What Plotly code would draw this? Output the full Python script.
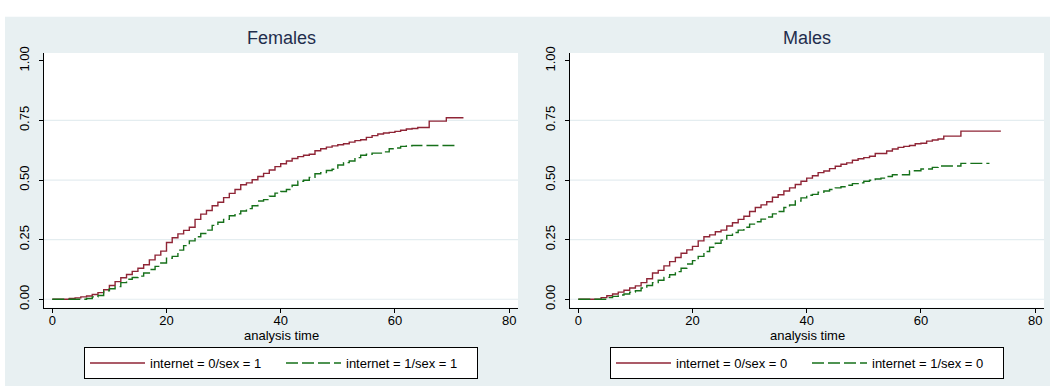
import plotly.graph_objects as go

# Kaplan-Meier failure estimates, one step per event time
fem_t_net0 = [0, 3, 4, 5, 6, 7, 8, 9, 10, 11, 12, 13, 14, 15, 16, 17, 18, 19, 20,
              21, 22, 23, 24, 25, 26, 27, 28, 29, 30, 31, 32, 33, 34, 35, 36, 37,
              38, 39, 40, 41, 42, 43, 44, 45, 46, 47, 48, 49, 50, 51, 52, 53, 54,
              55, 56, 57, 58, 59, 60, 61, 62, 63, 64, 66, 69, 72]
fem_f_net0 = [0, .003, .006, .010, .014, .020, .028, .040, .058, .074, .090, .104,
              .117, .130, .145, .165, .185, .202, .238, .258, .274, .289, .302,
              .335, .357, .372, .392, .407, .426, .444, .460, .480, .488, .501,
              .515, .528, .542, .556, .568, .580, .590, .598, .604, .608, .623,
              .631, .638, .643, .648, .652, .659, .665, .669, .679, .686, .693,
              .697, .700, .704, .709, .714, .716, .720, .747, .761, .761]

fem_t_net1 = [0, 6, 7, 8, 9, 10, 11, 12, 13, 14, 15, 16, 17, 18, 19, 20, 21, 22,
              23, 24, 25, 26, 27, 28, 29, 30, 31, 32, 33, 34, 35, 36, 37, 38, 39,
              40, 41, 42, 43, 44, 45, 46, 47, 48, 49, 50, 51, 52, 53, 54, 55, 56,
              58, 59, 60, 61, 62, 63, 71]
fem_f_net1 = [0, .003, .010, .016, .035, .044, .053, .070, .084, .091, .097, .110,
              .125, .138, .152, .172, .180, .206, .225, .245, .262, .276, .290,
              .310, .323, .335, .350, .358, .370, .380, .392, .412, .418, .432,
              .445, .452, .460, .478, .495, .499, .511, .526, .531, .540, .545,
              .563, .573, .580, .594, .604, .608, .613, .618, .631, .634, .641,
              .643, .645, .645]

mal_t_net0 = [0, 4, 5, 6, 7, 8, 9, 10, 11, 12, 13, 14, 15, 16, 17, 18, 19, 20,
              21, 22, 23, 24, 25, 26, 27, 28, 29, 30, 31, 32, 33, 34, 35, 36, 37,
              38, 39, 40, 41, 42, 43, 44, 45, 46, 47, 48, 49, 50, 51, 52, 54, 55,
              56, 57, 58, 59, 60, 61, 62, 63, 64, 67, 74]
mal_f_net0 = [0, .007, .015, .022, .030, .038, .047, .056, .070, .086, .110, .121,
              .140, .158, .175, .193, .207, .222, .245, .262, .270, .283, .290,
              .307, .321, .335, .348, .368, .385, .396, .409, .428, .438, .454,
              .467, .481, .495, .508, .518, .531, .538, .548, .558, .566, .572,
              .583, .589, .594, .600, .611, .622, .630, .637, .641, .645, .652,
              .654, .663, .668, .672, .684, .705, .705]

mal_t_net1 = [0, 5, 6, 7, 8, 9, 10, 11, 12, 13, 14, 15, 16, 17, 18, 19, 20, 21,
              22, 23, 24, 25, 26, 27, 28, 29, 30, 31, 32, 33, 34, 35, 36, 37, 38,
              39, 40, 41, 42, 43, 44, 45, 46, 47, 48, 49, 50, 51, 52, 53, 54, 55,
              58, 60, 62, 63, 67, 72]
mal_f_net1 = [0, .007, .012, .018, .022, .030, .036, .047, .058, .070, .080, .092,
              .103, .116, .130, .148, .162, .180, .200, .218, .235, .248, .268,
              .280, .290, .302, .315, .325, .336, .345, .358, .368, .385, .395,
              .412, .425, .436, .440, .449, .454, .460, .467, .472, .478, .485,
              .488, .495, .499, .504, .508, .515, .522, .539, .546, .553, .559,
              .570, .570]

panel_titles = ["Females", "Males"]
legend_names = [["internet = 0/sex = 1", "internet = 1/sex = 1"],
                ["internet = 0/sex = 0", "internet = 1/sex = 0"]]
x_ticks = [0, 20, 40, 60, 80]
y_ticks = [0, 0.25, 0.5, 0.75, 1.0]
y_grid = [0, 0.25, 0.5, 0.75]

W, H = 1050, 388
FONT = "Liberation Sans, Arial, Helvetica, sans-serif"
RED = "#8f2536"
GREEN = "#16701a"
BG = "#e8f0f2"
GRID = "#e4edf0"

# panel geometry in pixels
panels = [dict(x0=44, x1=518), dict(x0=570, x1=1044)]
plot_top, plot_bot = 47, 308

fig = go.Figure()

series = [(fem_t_net0, fem_f_net0, fem_t_net1, fem_f_net1),
          (mal_t_net0, mal_f_net0, mal_t_net1, mal_f_net1)]

for i, (t0, f0, t1, f1) in enumerate(series):
    xa = "x" if i == 0 else "x2"
    ya = "y" if i == 0 else "y2"
    lg = "legend" if i == 0 else "legend2"
    fig.add_trace(go.Scatter(x=t0, y=f0, mode="lines", line_shape="hv",
                             line=dict(color=RED, width=1.4),
                             name=legend_names[i][0], xaxis=xa, yaxis=ya,
                             legend=lg))
    fig.add_trace(go.Scatter(x=t1, y=f1, mode="lines", line_shape="hv",
                             line=dict(color=GREEN, width=1.4, dash="12px,4px"),
                             name=legend_names[i][1], xaxis=xa, yaxis=ya,
                             legend=lg))

ydom = [1 - plot_bot / H, 1 - plot_top / H]
axis_common = dict(showline=True, linecolor="black", linewidth=1,
                   ticks="outside", ticklen=4, tickcolor="black", tickwidth=1,
                   showgrid=False, zeroline=False,
                   tickfont=dict(family=FONT, size=13, color="black"))

layout = dict(
    width=W, height=H,
    margin=dict(l=0, r=0, t=0, b=0),
    paper_bgcolor="white", plot_bgcolor="white",
    font=dict(family=FONT, size=13, color="black"),
    showlegend=True,
)
for i, p in enumerate(panels):
    sfx = "" if i == 0 else str(i + 1)
    layout["xaxis" + sfx] = dict(axis_common, domain=[p["x0"] / W, p["x1"] / W],
                                 range=[-1.45, 81.55], tickvals=x_ticks,
                                 ticklabelstandoff=-3, anchor="y" + sfx)
    layout["yaxis" + sfx] = dict(axis_common, domain=ydom, range=[-0.036, 1.033],
                                 tickvals=y_ticks, tickformat=".2f",
                                 tickangle=-90, ticklabelstandoff=5,
                                 anchor="x" + sfx)
    cx = (p["x0"] + p["x1"]) / 2 / W
    legend_key = "legend" if i == 0 else "legend2"
    layout[legend_key] = dict(x=cx, xanchor="center", y=1 - 364.5 / H,
                              yanchor="middle", orientation="h",
                              bgcolor="white", bordercolor="black",
                              borderwidth=1, itemwidth=55, entrywidth=126,
                              font=dict(family=FONT, size=13, color="black"))

fig.update_layout(**layout)

# graph region: tinted backdrop with white plot regions on top of it
fig.add_shape(type="rect", xref="paper", yref="paper", x0=5 / W, x1=1,
              y0=0, y1=1 - 10 / H, fillcolor=BG, line_width=0, layer="below")
for p in panels:
    fig.add_shape(type="rect", xref="paper", yref="paper", x0=p["x0"] / W,
                  x1=p["x1"] / W, y0=ydom[0], y1=ydom[1], fillcolor="white",
                  line_width=0, layer="below")

for i in range(2):
    sfx = "" if i == 0 else str(i + 1)
    for g in y_grid:
        fig.add_shape(type="line", xref="x" + sfx + " domain", yref="y" + sfx,
                      x0=0, x1=1, y0=g, y1=g, line=dict(color=GRID, width=1.2),
                      layer="below")
    cx = (panels[i]["x0"] + panels[i]["x1"]) / 2 / W
    fig.add_annotation(text=panel_titles[i], x=cx, y=1 - 32 / H, xref="paper",
                       yref="paper", showarrow=False, xanchor="center",
                       yanchor="middle",
                       font=dict(family=FONT, size=18, color="#1f2d4d"))
    fig.add_annotation(text="analysis time", x=cx, y=1 - 336 / H, xref="paper",
                       yref="paper", showarrow=False, xanchor="center",
                       yanchor="middle",
                       font=dict(family=FONT, size=13, color="black"))

fig.write_html("out.html")
